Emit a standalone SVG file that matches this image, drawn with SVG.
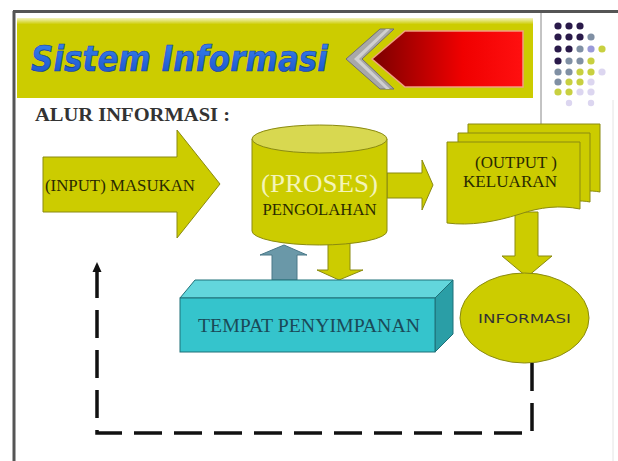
<svg xmlns="http://www.w3.org/2000/svg" width="618" height="461" viewBox="0 0 618 461">
<defs>
<style>
.serif{font-family:"Liberation Serif","Times New Roman",serif}
.yel{fill:#cccc00;stroke:#8a8a10;stroke-width:1}
.lbl{fill:#2a2a00;font-size:16px}
.dp{fill:#2a1a4a}.gb{fill:#8090a4}.lv{fill:#9a9ad8}.yd{fill:#c8d040}.lt{fill:#dcd6f0}
</style>
<linearGradient id="red" x1="0" y1="0" x2="1" y2="0">
<stop offset="0" stop-color="#7a0000"/><stop offset="0.6" stop-color="#f00000"/><stop offset="1" stop-color="#ff1010"/>
</linearGradient>
<linearGradient id="band" x1="0" y1="0" x2="0" y2="1">
<stop offset="0" stop-color="#f4f4c0"/><stop offset="0.08" stop-color="#cccc00"/><stop offset="1" stop-color="#cccc00"/>
</linearGradient>
<linearGradient id="title" x1="0" y1="0" x2="0" y2="1">
<stop offset="0" stop-color="#3a86f0"/><stop offset="1" stop-color="#1a50c8"/>
</linearGradient>
</defs>
<rect width="618" height="461" fill="#fff"/>
<!-- frame -->
<g id="frame">
<line x1="14" y1="11" x2="14" y2="461" stroke="#555" stroke-width="3"/>
<line x1="13" y1="11.5" x2="618" y2="11.5" stroke="#555" stroke-width="3"/>
<line x1="613" y1="100" x2="613" y2="461" stroke="#e4e4e4" stroke-width="1"/>
<line x1="541" y1="13" x2="541" y2="124" stroke="#888" stroke-width="1"/>
</g>
<!-- header -->
<g id="header">
<rect x="17" y="18" width="516" height="80" fill="url(#band)"/>
<text x="31" y="71" font-family="DejaVu Sans Condensed, DejaVu Sans, sans-serif" font-stretch="condensed" font-weight="bold" font-style="italic" font-size="36" textLength="297" lengthAdjust="spacingAndGlyphs" fill="url(#title)" stroke="#0d3aa0" stroke-width="0.6">Sistem Informasi</text>
<polygon points="380,29 346,59 380,89 394,89 362,59 394,29" fill="#a8a8a8" stroke="#707070" stroke-width="1"/>
<polygon points="386,29 354,59 386,89 390,89 359,59 390,29" fill="#d0d0d0"/>
<polygon points="372,59 405,31 523,31 523,87 405,87" fill="url(#red)" stroke="#f0a080" stroke-width="1.5"/>
</g>
<!-- dots -->
<g id="dots">
<circle class="dp" cx="558" cy="26" r="3.6"/><circle class="dp" cx="569" cy="26" r="3.6"/><circle class="dp" cx="580" cy="26" r="3.6"/>
<circle class="dp" cx="558" cy="37" r="3.6"/><circle class="dp" cx="569" cy="37" r="3.6"/><circle class="dp" cx="580" cy="37" r="3.6"/><circle class="gb" cx="591" cy="37" r="3.6"/>
<circle class="dp" cx="558" cy="49" r="3.6"/><circle class="dp" cx="569" cy="49" r="3.6"/><circle class="gb" cx="580" cy="49" r="3.6"/><circle class="lv" cx="591" cy="49" r="3.6"/><circle class="yd" cx="602" cy="49" r="3.6"/>
<circle class="dp" cx="558" cy="61" r="3.6"/><circle class="gb" cx="569" cy="61" r="3.6"/><circle class="gb" cx="580" cy="61" r="3.6"/><circle class="yd" cx="591" cy="61" r="3.6"/>
<circle class="gb" cx="558" cy="72" r="3.6"/><circle class="gb" cx="569" cy="72" r="3.6"/><circle class="yd" cx="580" cy="72" r="3.6"/><circle class="yd" cx="591" cy="72" r="3.6"/><circle class="lt" cx="602" cy="72" r="3.6"/>
<circle class="gb" cx="558" cy="82" r="3.6"/><circle class="yd" cx="569" cy="82" r="3.6"/><circle class="yd" cx="580" cy="82" r="3.6"/><circle class="lt" cx="591" cy="82" r="3.6"/>
<circle class="yd" cx="558" cy="92" r="3.6"/><circle class="yd" cx="569" cy="92" r="3.6"/><circle class="lt" cx="580" cy="92" r="3.6"/><circle class="lt" cx="591" cy="92" r="3.6"/>
<circle class="lt" cx="569" cy="103" r="3.2"/><circle class="lt" cx="591" cy="103" r="3.2"/>
</g>
<text class="serif" x="35" y="121" font-size="19" font-weight="bold" textLength="195" lengthAdjust="spacingAndGlyphs" fill="#333">ALUR INFORMASI :</text>
<!-- connectors -->
<g id="connectors">
<polygon points="387,173 422,173 422,160 433,185 422,210 422,198 387,198" class="yel"/>
<polygon points="515,212 538,212 538,256 552,256 527,277 502,256 515,256" class="yel" stroke="#909070"/>
<polygon points="272,280 272,255 260,255 284,245 307,255 297,255 297,280" fill="#6a98a8" stroke="#4a7888" stroke-width="1"/>
<polygon points="328,243 350,243 350,270 363,270 339,280 317,270 328,270" class="yel"/>
<polyline points="532,363 532,433 97,433 97,271" fill="none" stroke="#111" stroke-width="3.5" stroke-dasharray="28 12"/>
<polygon points="97,262 92.5,272 101.5,272" fill="#111"/>
</g>
<!-- input -->
<g id="input">
<polygon points="43,157 177,157 177,130 220,184 177,238 177,212 43,212" class="yel"/>
<text class="serif lbl" x="45" y="191" textLength="150" lengthAdjust="spacingAndGlyphs">(INPUT) MASUKAN</text>
</g>
<!-- process cylinder -->
<g id="proses">
<path d="M252,139 V231 A67.5,14 0 0 0 387,231 V139 Z" class="yel"/>
<ellipse cx="319.5" cy="139" rx="67.5" ry="14" fill="#d8d850" stroke="#8a8a10" stroke-width="1"/>
<text class="serif" x="319.5" y="192" font-size="26" text-anchor="middle" textLength="117" lengthAdjust="spacingAndGlyphs" fill="#f4f4b8">(PROSES)</text>
<text class="serif lbl" x="319.5" y="215" text-anchor="middle" textLength="114" lengthAdjust="spacingAndGlyphs">PENGOLAHAN</text>
</g>
<!-- output docs -->
<g id="output">
<path d="M468,124 H600 V192 C590,190 580,191 570,194 L468,194 Z" class="yel"/>
<path d="M458,133 H590 V202 C580,200 570,201 560,204 L458,204 Z" class="yel"/>
<path d="M447,142 H580 V209 C560,205 540,207 520,214 C495,222 470,226 447,223 Z" class="yel"/>
<text class="serif lbl" x="475" y="168" textLength="82" lengthAdjust="spacingAndGlyphs">(OUTPUT )</text>
<text class="serif lbl" x="463" y="187" textLength="94" lengthAdjust="spacingAndGlyphs">KELUARAN</text>
</g>
<!-- storage -->
<g id="storage">
<polygon points="180,298 195,280 453,280 435,298" fill="#62d6dc" stroke="#1f7078" stroke-width="1"/>
<polygon points="435,298 453,280 453,334 435,352" fill="#2a9ea6" stroke="#1f7078" stroke-width="1"/>
<rect x="180" y="298" width="255" height="54" fill="#35c4cc" stroke="#1f7078" stroke-width="1"/>
<text class="serif" x="198" y="332" font-size="18" textLength="222" lengthAdjust="spacingAndGlyphs" fill="#1a4a58">TEMPAT PENYIMPANAN</text>
</g>
<!-- informasi -->
<g id="informasi">
<ellipse cx="524.5" cy="318" rx="64.5" ry="45" class="yel"/>
<text x="478" y="323" font-family="DejaVu Sans, sans-serif" font-size="13" textLength="93" lengthAdjust="spacingAndGlyphs" fill="#333">INFORMASI</text>
</g>
</svg>
